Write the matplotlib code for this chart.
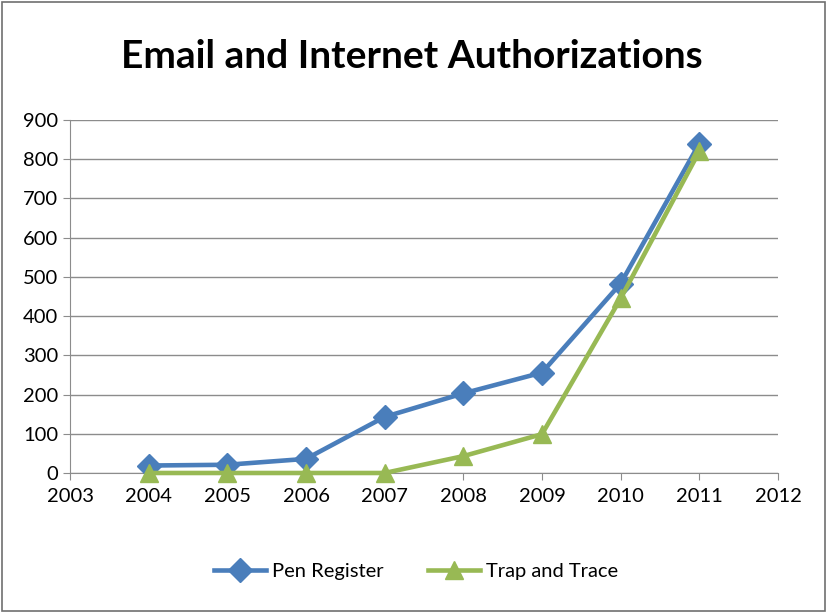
import matplotlib
matplotlib.use("Agg")
import matplotlib.pyplot as plt
from matplotlib.patches import Rectangle

years = [2004, 2005, 2006, 2007, 2008, 2009, 2010, 2011]
pen_register = [19, 21, 36, 143, 203, 256, 483, 840]
trap_trace = [0, 0, 0, 0, 43, 99, 445, 820]
x_ticks = list(range(2003, 2013))
y_ticks = list(range(0, 1000, 100))

BLUE = "#4A7EBB"
GREEN = "#98B954"
GRID = "#8C8C8C"
FONT = ["Lato", "DejaVu Sans"]

plt.rcParams["font.family"] = FONT

fig = plt.figure(figsize=(8.27, 6.13), dpi=100, facecolor="white")
ax = fig.add_axes([0.0847, 0.2284, 0.856, 0.5758])

ax.plot(years, pen_register, color=BLUE, lw=3.3, marker="D", markersize=12,
        label="Pen Register", zorder=3, clip_on=False)
ax.plot(years, trap_trace, color=GREEN, lw=3.3, marker="^", markersize=13,
        label="Trap and Trace", zorder=4, clip_on=False)

ax.set_xlim(2003, 2012)
ax.set_ylim(0, 900)
ax.set_xticks(x_ticks)
ax.set_yticks(y_ticks)
ax.yaxis.grid(True, color=GRID, lw=1.0)
ax.set_axisbelow(True)
for s in ["top", "right"]:
    ax.spines[s].set_visible(False)
ax.spines["left"].set_color(GRID)
ax.spines["bottom"].set_color(GRID)
ax.tick_params(axis="both", colors=GRID, labelcolor="black", labelsize=14.5,
               length=5, direction="out")
ax.tick_params(axis="x", pad=6)

fig.text(0.498, 0.908, "Email and Internet Authorizations", ha="center", va="center",
         fontsize=28, fontweight="bold")

fig.legend(loc="center", bbox_to_anchor=(0.503, 0.067), ncol=2, frameon=False,
           fontsize=14.5, handlelength=2.6, handletextpad=0.3, columnspacing=2.2)

fig.add_artist(Rectangle((0.003, 0.004), 0.994, 0.992, transform=fig.transFigure,
                         fill=False, edgecolor="#6F6F6F", lw=1.2))

fig.savefig("out.png", dpi=100, facecolor="white")
